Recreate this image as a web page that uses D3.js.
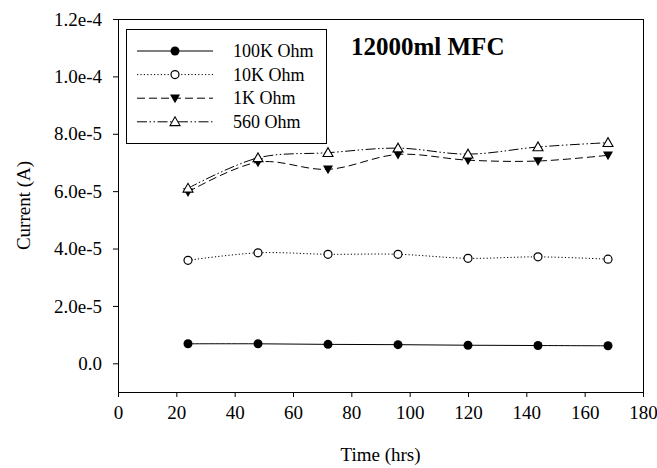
<!DOCTYPE html>
<html><head><meta charset="utf-8">
<script src="https://cdn.jsdelivr.net/npm/d3@7"></script>
<style>body{margin:0;background:#fff}svg{display:block}text{font-family:"Liberation Serif","Times New Roman",serif;fill:#000}</style>
</head><body><div id="chart"></div>
<script>
const hours = [24, 48, 72, 96, 120, 144, 168];
const r100K = [6.8e-6, 6.8e-6, 6.6e-6, 6.5e-6, 6.3e-6, 6.2e-6, 6.1e-6];
const r10K  = [3.59e-5, 3.85e-5, 3.80e-5, 3.80e-5, 3.66e-5, 3.71e-5, 3.63e-5];
const r1K   = [5.97e-5, 7.01e-5, 6.76e-5, 7.28e-5, 7.08e-5, 7.05e-5, 7.25e-5];
const r560  = [6.10e-5, 7.16e-5, 7.34e-5, 7.50e-5, 7.29e-5, 7.54e-5, 7.69e-5];
const seriesNames = ["100K Ohm", "10K Ohm", "1K Ohm", "560 Ohm"];
const xTicks = [0, 20, 40, 60, 80, 100, 120, 140, 160, 180];
const yTicks = [0, 2e-5, 4e-5, 6e-5, 8e-5, 1e-4, 1.2e-4];
const yTickLabels = ["0.0", "2.0e-5", "4.0e-5", "6.0e-5", "8.0e-5", "1.0e-4", "1.2e-4"];
const title = "12000ml MFC";
const xTitle = "Time (hrs)";
const yTitle = "Current (A)";

const W = 657, H = 468;
const L = 118, R = 643, T = 19, B = 392;
const svg = d3.select("#chart").append("svg").attr("width", W).attr("height", H);

const x = d3.scaleLinear().domain([0, 180]).range([L, R]);
const y = d3.scaleLinear().domain([-1e-5, 1.2e-4]).range([B, T]);

// frame
svg.append("line").attr("x1", L).attr("x2", R).attr("y1", T+0.5).attr("y2", T+0.5).attr("stroke", "#000");
svg.append("line").attr("x1", R+0.5).attr("x2", R+0.5).attr("y1", T).attr("y2", B).attr("stroke", "#000");

const xAxis = svg.append("g").attr("transform", `translate(0,${B})`)
  .call(d3.axisBottom(x).tickValues(xTicks).tickSize(5).tickPadding(9).tickSizeOuter(0));
const yAxis = svg.append("g").attr("transform", `translate(${L},0)`)
  .call(d3.axisLeft(y).tickValues(yTicks).tickFormat((d, i) => yTickLabels[i]).tickSize(5).tickPadding(11).tickSizeOuter(0));
[xAxis, yAxis].forEach(g => {
  g.attr("font-family", null).attr("font-size", null);
  g.select(".domain").attr("stroke", "#000");
  g.selectAll(".tick line").attr("stroke", "#000");
  g.selectAll("text").style("font-size", "19px").style("font-family", '"Liberation Serif", serif');
});

svg.append("text").attr("x", (L + R) / 2).attr("y", 461).attr("text-anchor", "middle").style("font-size", "19px").text(xTitle);
svg.append("text").attr("transform", `translate(30,${(T + B) / 2}) rotate(-90)`).attr("text-anchor", "middle").style("font-size", "19px").text(yTitle);
svg.append("text").attr("x", 351).attr("y", 55).style("font-size", "25px").style("font-weight", "bold").text(title);

const styles = [
  { data: r100K, dash: null, marker: "circleFilled" },
  { data: r10K, dash: "1.2,2.2", marker: "circleOpen" },
  { data: r1K, dash: "8,4", marker: "triDown" },
  { data: r560, dash: "10,2.5,1.5,2.5,1.5,2.5", marker: "triUp" }
];

function drawMarker(g, type, cx, cy) {
  if (type === "circleFilled") g.append("circle").attr("cx", cx).attr("cy", cy).attr("r", 4.5).attr("fill", "#000");
  else if (type === "circleOpen") g.append("circle").attr("cx", cx).attr("cy", cy).attr("r", 4).attr("fill", "#fff").attr("stroke", "#000").attr("stroke-width", 1.2);
  else if (type === "triDown") g.append("path").attr("d", `M${cx-5},${cy-3.8}L${cx+5},${cy-3.8}L${cx},${cy+5}Z`).attr("fill", "#000");
  else if (type === "triUp") g.append("path").attr("d", `M${cx-5},${cy+3.8}L${cx+5},${cy+3.8}L${cx},${cy-5}Z`).attr("fill", "#fff").attr("stroke", "#000").attr("stroke-width", 1.1);
}

const line = d3.line().x(d => x(d[0])).y(d => y(d[1])).curve(d3.curveCatmullRom.alpha(0.5));
styles.forEach(s => {
  const pts = hours.map((h, i) => [h, s.data[i]]);
  svg.append("path").attr("d", line(pts)).attr("fill", "none").attr("stroke", "#000").attr("stroke-width", 1)
    .attr("stroke-dasharray", s.dash);
});
styles.forEach(s => {
  const g = svg.append("g");
  hours.forEach((h, i) => drawMarker(g, s.marker, x(h), y(s.data[i])));
});

// legend
const lg = svg.append("g");
lg.append("rect").attr("x", 126.5).attr("y", 29.5).attr("width", 200).attr("height", 114).attr("fill", "#fff").attr("stroke", "#000");
styles.forEach((s, i) => {
  const ly = 51 + i * 23.6;
  lg.append("line").attr("x1", 137).attr("x2", 213).attr("y1", ly).attr("y2", ly).attr("stroke", "#000").attr("stroke-dasharray", s.dash);
  drawMarker(lg, s.marker, 175, ly);
  lg.append("text").attr("x", 233).attr("y", ly + 6).style("font-size", "18px").text(seriesNames[i]);
});
</script></body></html>
